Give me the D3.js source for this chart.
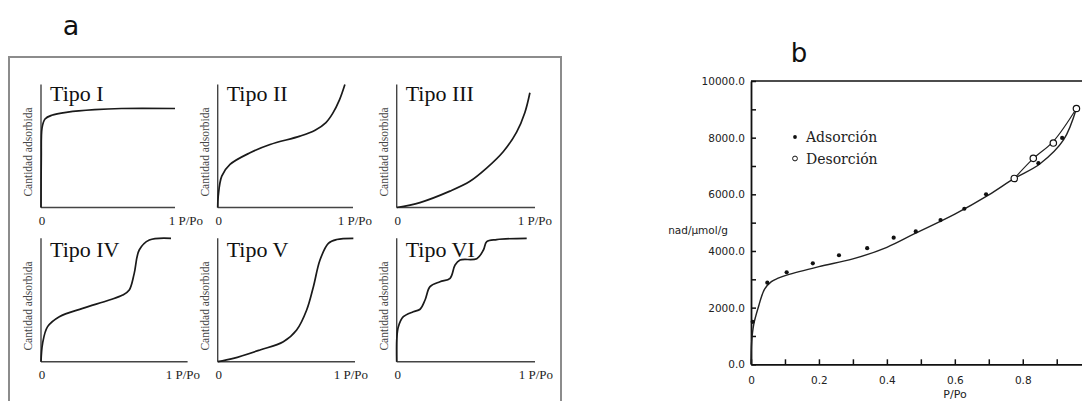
<!DOCTYPE html>
<html><head><meta charset="utf-8">
<script src="https://cdn.jsdelivr.net/npm/d3@7"></script>
<style>html,body{margin:0;padding:0;background:#fff;}svg{display:block;}</style>
</head><body><div id="chart"></div>
<script>
// ---------- DATA ----------
// Panel a: schematic isotherm types (x = P/Po, y = fraction of axis height)
const typeNames = ["Tipo I","Tipo II","Tipo III","Tipo IV","Tipo V","Tipo VI"];
const tipoI   = [[0,0],[0.002,0.4],[0.008,0.65],[0.03,0.72],[0.08,0.75],[0.2,0.775],[0.4,0.795],[0.6,0.805],[1.0,0.805]];
const tipoII  = [[0,0],[0.004,0.092],[0.03,0.255],[0.091,0.35],[0.239,0.445],[0.387,0.512],[0.608,0.58],[0.72,0.628],[0.8,0.69],[0.85,0.765],[0.9,0.875],[0.94,1.0]];
const tipoIII = [[0,0],[0.168,0.04],[0.385,0.133],[0.53,0.213],[0.65,0.32],[0.77,0.453],[0.867,0.613],[0.927,0.773],[0.963,0.933]];
const tipoIV  = [[0,0],[0.011,0.149],[0.045,0.284],[0.125,0.365],[0.284,0.432],[0.466,0.5],[0.557,0.54],[0.602,0.581],[0.636,0.716],[0.67,0.905],[0.739,0.986],[0.887,1.0]];
const tipoV   = [[0,0],[0.114,0.027],[0.308,0.095],[0.478,0.162],[0.575,0.257],[0.648,0.419],[0.697,0.608],[0.745,0.824],[0.806,0.959],[0.867,0.99],[0.988,1.0]];
const tipoVI  = [[0,0],[0.001,0.19],[0.012,0.284],[0.048,0.365],[0.12,0.405],[0.169,0.425],[0.205,0.5],[0.241,0.608],[0.313,0.648],[0.386,0.676],[0.422,0.784],[0.458,0.824],[0.579,0.835],[0.627,0.905],[0.651,0.973],[0.723,0.99],[0.94,1.0]];
const typeCurves = [tipoI, tipoII, tipoIII, tipoIV, tipoV, tipoVI];
const axisTitleA = "Cantidad adsorbida";
const tickLabelsA = ["0", "1 P/Po"];

// Panel b: measured isotherm
const adsX = [0.005,0.048,0.105,0.182,0.259,0.342,0.42,0.485,0.558,0.628,0.692,0.775,0.846,0.916];
const adsY = [1500,2880,3250,3565,3850,4100,4470,4690,5090,5490,6000,6560,7100,7990];
const desX = [0.775,0.831,0.89,0.958];
const desY = [6560,7270,7810,9030];
const adsLineX = [0,0.002,0.008,0.02,0.04,0.06,0.08,0.105,0.2,0.3,0.4,0.48,0.6,0.7,0.775,0.85,0.92,0.958];
const adsLineY = [0,800,1400,1950,2650,2920,3040,3150,3450,3720,4130,4600,5300,5980,6560,7070,7920,9030];
const desLineX = [0.775,0.83,0.89,0.958];
const desLineY = [6560,7250,7870,9030];
const xTicksB = [0,0.1,0.2,0.3,0.4,0.5,0.6,0.7,0.8,0.9,1.0];
const yTicksB = [0,1000,2000,3000,4000,5000,6000,7000,8000,9000,10000];
const legendLabels = ["Adsorción","Desorción"];
const yTitleB = "nad/µmol/g";
const xTitleB = "P/Po";

// ---------- LAYOUT ----------
const W = 1082, H = 401;
const svg = d3.select("#chart").append("svg").attr("width", W).attr("height", H);

// panel letters
svg.append("text").attr("x", 71).attr("y", 35).attr("text-anchor","middle")
  .style("font-family","DejaVu Sans").style("font-size","27px").attr("fill","#111").text("a");
svg.append("text").attr("x", 799).attr("y", 62).attr("text-anchor","middle")
  .style("font-family","DejaVu Sans").style("font-size","26px").attr("fill","#111").text("b");

// frame for panel a
svg.append("rect").attr("x", 9).attr("y", 57).attr("width", 552).attr("height", 360)
  .attr("fill","none").attr("stroke","#8c8c8c").attr("stroke-width", 2);

const colX0 = [41, 217.7, 396.7];
const rowTop = [84.5, 238.3];
const rowBot = [207.5, 361.7];
const widths = [[134,135.3,138.3],[146.6,137.3,138.3]];
const labEnd = [[203,372,552],[200,368,553]];

typeCurves.forEach((data, i) => {
  const r = Math.floor(i / 3), c = i % 3;
  const x0 = colX0[c], w = widths[r][c], top = rowTop[r], bot = rowBot[r];
  const x = d3.scaleLinear().domain([0,1]).range([x0, x0 + w]);
  const y = d3.scaleLinear().domain([0,1]).range([bot, top]);
  const g = svg.append("g");
  // axes
  g.append("line").attr("x1", x(0)).attr("x2", x(0)).attr("y1", y(0)).attr("y2", y(1))
    .attr("stroke","#444").attr("stroke-width",1.4);
  g.append("line").attr("x1", x(0)).attr("x2", x(1)).attr("y1", y(0)).attr("y2", y(0))
    .attr("stroke","#444").attr("stroke-width",1.4);
  // curve
  g.append("path").datum(data)
    .attr("d", d3.line().x(d => x(d[0])).y(d => y(d[1])).curve(d3.curveCatmullRom.alpha(0.5)))
    .attr("fill","none").attr("stroke","#1a1a1a").attr("stroke-width",1.7);
  // title
  g.append("text").attr("x", x0 + 9).attr("y", top + (r === 0 ? 16.5 : 19))
    .style("font-family","Liberation Serif").style("font-size","22px").attr("fill","#111")
    .text(typeNames[i]);
  // y title
  const cy = (top + bot) / 2 + 6;
  g.append("text").attr("transform", `translate(${x0 - 9},${cy}) rotate(-90)`)
    .attr("text-anchor","middle")
    .style("font-family","Liberation Serif").style("font-size","11.5px").attr("fill","#444")
    .text(axisTitleA);
  // tick labels
  g.append("text").attr("x", x(0) + 1).attr("y", bot + 17).attr("text-anchor","middle")
    .style("font-family","Liberation Serif").style("font-size","13px").attr("fill","#222")
    .text(tickLabelsA[0]);
  g.append("text").attr("x", labEnd[r][c]).attr("y", bot + 17).attr("text-anchor","end")
    .style("font-family","Liberation Serif").style("font-size","13px").attr("fill","#222")
    .text(tickLabelsA[1]);
});

// ---------- PANEL b ----------
const xb = d3.scaleLinear().domain([0,1]).range([751, 1090.7]);
const yb = d3.scaleLinear().domain([0,10000]).range([364.3, 81]);
const gb = svg.append("g");

const fmt1 = d3.format(".1f");
const xAxis = d3.axisBottom(xb).tickValues(xTicksB).tickSizeInner(-5).tickSizeOuter(0).tickPadding(12)
  .tickFormat(d => (Math.round(d*10) % 2 === 0) ? (d === 0 ? "0" : fmt1(d)) : "");
const yAxis = d3.axisLeft(yb).tickValues(yTicksB).tickSizeInner(-5).tickSizeOuter(0).tickPadding(6)
  .tickFormat(d => (d % 2000 === 0) ? fmt1(d) : "");

const gx = gb.append("g").attr("transform", `translate(0,${yb(0)})`).call(xAxis);
const gy = gb.append("g").attr("transform", `translate(${xb(0)},0)`).call(yAxis);
[gx, gy].forEach(g => {
  g.select(".domain").attr("stroke","#111").attr("stroke-width",1.8);
  g.selectAll(".tick line").attr("stroke","#111").attr("stroke-width",1.5);
  g.selectAll(".tick text").style("font-family","DejaVu Sans").style("font-size","10.5px").attr("fill","#222");
});
// top frame line
gb.append("line").attr("x1", xb(0)).attr("x2", W + 5).attr("y1", yb(10000)).attr("y2", yb(10000))
  .attr("stroke","#111").attr("stroke-width",1.6);

// titles
gb.append("text").attr("x", 698).attr("y", 234).attr("text-anchor","middle")
  .style("font-family","DejaVu Sans").style("font-size","10.5px").attr("fill","#222").text(yTitleB);
gb.append("text").attr("x", 955).attr("y", 398).attr("text-anchor","middle")
  .style("font-family","DejaVu Sans").style("font-size","11px").attr("fill","#222").text(xTitleB);

// lines
const lineB = d3.line().x(d => xb(d[0])).y(d => yb(d[1])).curve(d3.curveCatmullRom.alpha(0.5));
gb.append("path").datum(adsLineX.map((v,i)=>[v, adsLineY[i]])).attr("d", lineB)
  .attr("fill","none").attr("stroke","#222").attr("stroke-width",1.4);
gb.append("path").datum(desLineX.map((v,i)=>[v, desLineY[i]])).attr("d", lineB)
  .attr("fill","none").attr("stroke","#222").attr("stroke-width",1.2);

// points
gb.selectAll("circle.ads").data(adsX.map((v,i)=>[v, adsY[i]])).enter().append("circle")
  .attr("class","ads").attr("cx", d=>xb(d[0])).attr("cy", d=>yb(d[1])).attr("r", 2.1).attr("fill","#111");
gb.selectAll("circle.des").data(desX.map((v,i)=>[v, desY[i]])).enter().append("circle")
  .attr("class","des").attr("cx", d=>xb(d[0])).attr("cy", d=>yb(d[1])).attr("r", 3.2)
  .attr("fill","#fff").attr("stroke","#111").attr("stroke-width",1.2);

// legend
const leg = gb.append("g");
leg.append("circle").attr("cx", 795).attr("cy", 137).attr("r", 1.9).attr("fill","#111");
leg.append("circle").attr("cx", 795).attr("cy", 158.5).attr("r", 2.4).attr("fill","#fff").attr("stroke","#111").attr("stroke-width",1);
legendLabels.forEach((t,i) => {
  leg.append("text").attr("x", 806).attr("y", 142 + i*21.5)
    .style("font-family","DejaVu Serif").style("font-size","14px").attr("fill","#222").text(t);
});
</script></body></html>
